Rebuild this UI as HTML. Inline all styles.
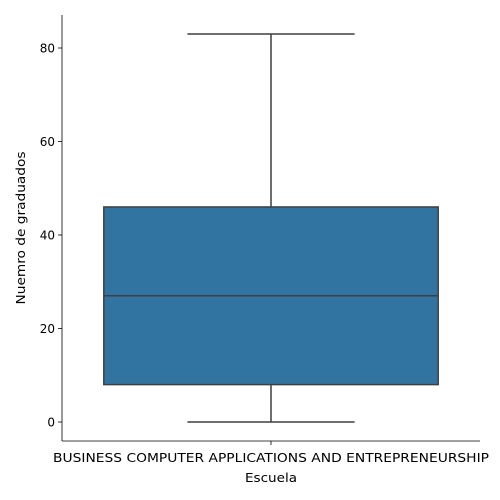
<!DOCTYPE html>
<html><head><meta charset="utf-8"><style>
body{margin:0;background:#fff}
svg{display:block;font-family:"DejaVu Sans","Liberation Sans",sans-serif}
</style></head><body>
<svg id="chart" width="500" height="500"></svg>
<script>
const categories=["BUSINESS COMPUTER APPLICATIONS AND ENTREPRENEURSHIP"];
const whiskerLow=[0];
const q1=[8];
const median=[27];
const q3=[46];
const whiskerHigh=[83];
const yTicks=[0,20,40,60,80];

const NS="http://www.w3.org/2000/svg";
const svg=document.getElementById('chart');
const L=62,R=480,T=15,B=441;
const y=v=>422-v*(422-48)/80;
const bandW=(R-L)/categories.length;
const cx=i=>L+bandW*(i+0.5);
function mk(tag,attrs,parent){const e=document.createElementNS(NS,tag);for(const k in attrs)e.setAttribute(k,attrs[k]);(parent||svg).appendChild(e);return e;}

categories.forEach((c,i)=>{
  const x=cx(i), bw=bandW*0.8, cw=bw*0.5;
  const g=mk('g',{});
  
  
  const wl=mk('line',{x1:x,x2:x,y1:y(whiskerLow[i]),y2:y(q1[i]),stroke:'#3f3f3f','stroke-width':1.5},g);
  
  
  const wh=mk('line',{x1:x,x2:x,y1:y(q3[i]),y2:y(whiskerHigh[i]),stroke:'#3f3f3f','stroke-width':1.5},g);
  
  
  const cl=mk('line',{x1:x-cw/2,x2:x+cw/2,y1:y(whiskerLow[i]),y2:y(whiskerLow[i]),stroke:'#3f3f3f','stroke-width':1.5},g);
  
  
  const ch=mk('line',{x1:x-cw/2,x2:x+cw/2,y1:y(whiskerHigh[i]),y2:y(whiskerHigh[i]),stroke:'#3f3f3f','stroke-width':1.5},g);
  
  
  const box=mk('rect',{x:x-bw/2,y:y(q3[i]),width:bw,height:y(q1[i])-y(q3[i]),fill:'#3274a1',stroke:'#3f3f3f','stroke-width':1.5},g);
  
  
  const md=mk('line',{x1:x-bw/2,x2:x+bw/2,y1:y(median[i]),y2:y(median[i]),stroke:'#3f3f3f','stroke-width':1.5},g);
  
  
  const tk=mk('line',{x1:x,x2:x,y1:B,y2:B+4,stroke:'#000','stroke-width':0.8});
  
  
  const tl=mk('text',{x:x,y:B+21,'text-anchor':'middle','font-size':12,fill:'#000',textLength:436,lengthAdjust:'spacingAndGlyphs'});
  tl.textContent=c;
  
  
});

yTicks.forEach(v=>{
  const t=mk('line',{x1:L-4,x2:L,y1:y(v),y2:y(v),stroke:'#000','stroke-width':0.8});
  
  
  const tl=mk('text',{x:L-7,y:y(v)+4.5,'text-anchor':'end','font-size':12,fill:'#000'});
  tl.textContent=v;
  
  
});

const ly=mk('line',{x1:L,x2:L,y1:T,y2:B,stroke:'#000','stroke-width':0.8});


const lx=mk('line',{x1:L,x2:R,y1:B,y2:B,stroke:'#000','stroke-width':0.8});



const xt=mk('text',{x:(L+R)/2,y:482,'text-anchor':'middle','font-size':12,fill:'#000',textLength:52,lengthAdjust:'spacingAndGlyphs'});
xt.textContent='Escuela';


const yt=mk('text',{x:0,y:0,'text-anchor':'middle','font-size':12,fill:'#000',textLength:153,lengthAdjust:'spacingAndGlyphs',transform:'translate(25,228) rotate(-90)'});
yt.textContent='Nuemro de graduados';


</script>
</body></html>
